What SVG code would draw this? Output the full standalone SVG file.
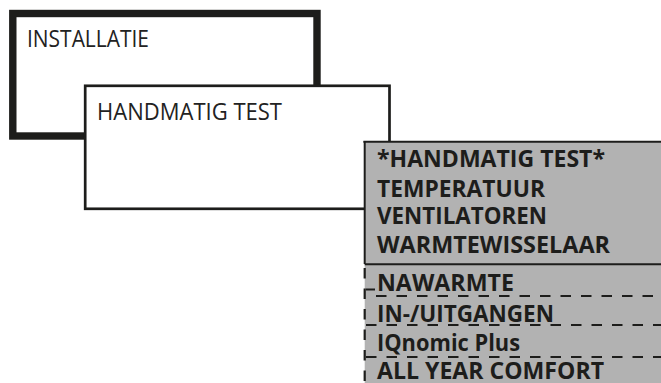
<svg xmlns="http://www.w3.org/2000/svg" width="661" height="383" viewBox="0 0 661 383">
  <style>
    .reg { font-family: "Open Sans", "Liberation Sans", sans-serif; font-weight: 400; font-size: 23px; fill: #222; }
    .bold { font-family: "Open Sans", "Liberation Sans", sans-serif; font-weight: 700; font-size: 23px; fill: #1d1d1b; }
    .sep { stroke: #1d1d1b; stroke-width: 2; fill: none; }
    .dash { stroke: #1d1d1b; stroke-width: 2.2; fill: none; stroke-dasharray: 10.5 10; }
  </style>
  <rect width="661" height="383" fill="#ffffff"/>
  <g id="node-installatie">
    <rect x="12.8" y="13.5" width="304.2" height="122.5" fill="#ffffff" stroke="#1d1d1b" stroke-width="7.4"/>
    <text class="reg" x="27" y="46.7" font-size="23.5" textLength="122" lengthAdjust="spacingAndGlyphs">INSTALLATIE</text>
  </g>
  <g id="node-handmatig-test">
    <rect x="85.2" y="85.8" width="304.3" height="123" fill="#ffffff" stroke="#1d1d1b" stroke-width="2.7"/>
    <text class="reg" x="97" y="120" textLength="185" lengthAdjust="spacingAndGlyphs">HANDMATIG TEST</text>
  </g>
  <g id="node-menu">
    <rect x="364.7" y="141.7" width="310" height="260" fill="#b2b2b2"/>
    <line class="sep" x1="363.4" y1="141.7" x2="661" y2="141.7" stroke-width="2.6"/>
    <line class="sep" x1="364.7" y1="141" x2="364.7" y2="264" stroke-width="2.6"/>
    <line class="sep" x1="364.7" y1="264.2" x2="661" y2="264.2"/>
    <line class="dash" x1="364.7" y1="268" x2="364.7" y2="383" stroke-width="2.6"/>
    <line class="sep" x1="366" y1="289.5" x2="375" y2="289.5"/>
    <line class="dash" x1="376" y1="296" x2="661" y2="296"/>
    <line class="dash" x1="366" y1="325" x2="661" y2="325"/>
    <line class="dash" x1="366" y1="357" x2="661" y2="357"/>
    <text class="bold" x="377" y="166.7" textLength="228" lengthAdjust="spacingAndGlyphs">*HANDMATIG TEST*</text>
    <text class="bold" x="377" y="196.6" textLength="168" lengthAdjust="spacingAndGlyphs">TEMPERATUUR</text>
    <text class="bold" x="377" y="224.3" textLength="170" lengthAdjust="spacingAndGlyphs">VENTILATOREN</text>
    <text class="bold" x="377" y="252.7" textLength="233" lengthAdjust="spacingAndGlyphs">WARMTEWISSELAAR</text>
    <text class="bold" x="377" y="290.6" textLength="137" lengthAdjust="spacingAndGlyphs">NAWARMTE</text>
    <text class="bold" x="377" y="321.6" textLength="177" lengthAdjust="spacingAndGlyphs">IN-/UITGANGEN</text>
    <text class="bold" x="377" y="350.7" textLength="143" lengthAdjust="spacingAndGlyphs">IQnomic Plus</text>
    <text class="bold" x="377" y="379" textLength="227" lengthAdjust="spacingAndGlyphs">ALL YEAR COMFORT</text>
  </g>
</svg>
